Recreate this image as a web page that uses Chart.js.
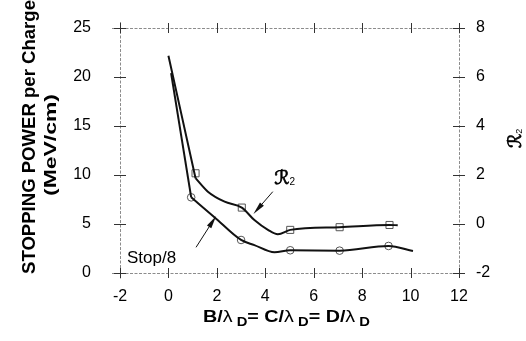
<!DOCTYPE html>
<html lang="en">
<head>
<meta charset="UTF-8">
<title>Stopping power per charge</title>
<script src="https://cdn.jsdelivr.net/npm/chart.js"></script>
<style>
  html, body { margin: 0; padding: 0; background: #fff; }
  #caja { width: 526px; height: 341px; }
</style>
</head>
<body>
<div id="caja"><canvas id="grafica"></canvas></div>
<script>
// ejes
const xTicks = [-2, 0, 2, 4, 6, 8, 10, 12];
const stopTicks = [0, 5, 10, 15, 20, 25];
const r2Ticks = [-2, 0, 2, 4, 6, 8];

// Stop/8 (eje izquierdo): tramo recto inicial, curva suave y circulos
const stopTramoX = [0.11, 0.94];
const stopTramoY = [20.4, 7.72];
const stopCurvaX = [0.94, 1.9, 3.0, 3.55, 4.38, 5.03, 7.07, 9.09, 10.1];
const stopCurvaY = [7.72, 5.7, 3.37, 2.85, 2.11, 2.32, 2.28, 2.76, 2.24];
const stopPuntosX = [0.94, 3.0, 5.03, 7.07, 9.09];
const stopPuntosY = [7.72, 3.37, 2.32, 2.28, 2.76];

// R2 (eje derecho): tramo recto inicial, curva suave y cuadrados
const r2TramoX = [0.0, 1.12];
const r2TramoY = [6.87, 1.87];
const r2CurvaX = [1.12, 1.63, 2.32, 3.03, 3.55, 4.11, 4.52, 5.03, 7.07, 9.13, 9.47];
const r2CurvaY = [1.87, 1.32, 0.91, 0.67, 0.16, -0.24, -0.42, -0.24, -0.13, -0.04, -0.05];
const r2PuntosX = [1.12, 3.03, 5.03, 7.07, 9.13];
const r2PuntosY = [2.07, 0.67, -0.24, -0.13, -0.04];

// anotaciones (en unidades de datos)
const flechaR2 = { desde: [4.31, 1.32], hasta: [3.51, 0.41] };   // eje derecho
const flechaStop = { desde: [1.14, 2.62], hasta: [1.97, 5.82] }; // eje izquierdo
const etiquetaR2 = { x: 4.37, y: 1.65 };
const etiquetaStop = { x: -1.71, y: 1.02 };

const FUENTE = "'Liberation Sans', Arial, Helvetica, sans-serif";

function pares(xs, ys) {
    return xs.map((x, i) => ({ x: x, y: ys[i] }));
}

function curva(etiqueta, xs, ys, eje) {
    return {
        label: etiqueta,
        data: pares(xs, ys),
        yAxisID: eje,
        showLine: true,
        borderColor: '#111',
        borderWidth: 2,
        pointRadius: 0,
        cubicInterpolationMode: 'monotone'
    };
}

function marcadores(etiqueta, xs, ys, eje, estilo, radio) {
    return {
        label: etiqueta,
        data: pares(xs, ys),
        yAxisID: eje,
        showLine: false,
        pointStyle: estilo,
        pointRadius: radio,
        borderColor: '#555',
        borderWidth: 1,
        backgroundColor: 'rgba(0,0,0,0)'
    };
}

function flecha(ctx, x0, y0, x1, y1) {
    const ang = Math.atan2(y1 - y0, x1 - x0);
    const largo = 13, medio = 2.6;
    ctx.beginPath();
    ctx.moveTo(x0, y0);
    ctx.lineTo(x1 - largo * 0.5 * Math.cos(ang), y1 - largo * 0.5 * Math.sin(ang));
    ctx.stroke();
    ctx.save();
    ctx.translate(x1, y1);
    ctx.rotate(ang);
    ctx.beginPath();
    ctx.moveTo(0, 0);
    ctx.lineTo(-largo, -medio);
    ctx.lineTo(-largo, medio);
    ctx.closePath();
    ctx.fill();
    ctx.restore();
}

// texto rotado, estirado hasta una longitud dada
function textoVertical(ctx, texto, fuente, xBase, yCentro, largoObjetivo) {
    ctx.save();
    ctx.font = fuente;
    const w = ctx.measureText(texto).width;
    ctx.translate(xBase, yCentro);
    ctx.rotate(-Math.PI / 2);
    ctx.scale(largoObjetivo / w, 1);
    ctx.textAlign = 'center';
    ctx.textBaseline = 'alphabetic';
    ctx.fillText(texto, 0, 0);
    ctx.restore();
}

// R caligrafica con subindice 2, algo engrosada
function erreDos(ctx, x, y, tam) {
    ctx.font = tam + "px 'DejaVu Sans', sans-serif";
    ctx.lineWidth = 0.7;
    ctx.strokeStyle = '#000';
    ctx.fillText('ℛ', x, y);
    ctx.strokeText('ℛ', x, y);
    const w = ctx.measureText('ℛ').width;
    ctx.font = Math.round(tam * 0.5) + 'px ' + FUENTE;
    ctx.fillText('2', x + w, y + 1);
}

// rejilla invisible: solo sirve para separar las etiquetas del eje
function rejillaOculta(separacion) {
    return {
        display: true,
        drawOnChartArea: false,
        drawTicks: true,
        tickLength: separacion,
        tickColor: 'rgba(0,0,0,0)',
        color: 'rgba(0,0,0,0)'
    };
}

const marco = {
    id: 'marco',
    afterDraw(chart) {
        const { ctx, chartArea: a, scales } = chart;
        const sx = scales.x, sy = scales.y, sy2 = scales.y2;
        ctx.save();

        // recuadro punteado
        ctx.strokeStyle = '#8c8c8c';
        ctx.lineWidth = 1;
        ctx.setLineDash([3, 1.5]);
        ctx.beginPath();
        ctx.moveTo(a.left - 8, a.top + 0.5); ctx.lineTo(a.right, a.top + 0.5);
        ctx.moveTo(a.left - 8, a.bottom + 0.5); ctx.lineTo(a.right, a.bottom + 0.5);
        ctx.moveTo(a.left + 0.5, a.top - 6); ctx.lineTo(a.left + 0.5, a.bottom + 6);
        ctx.moveTo(a.right + 0.5, a.top - 2); ctx.lineTo(a.right + 0.5, a.bottom + 2);
        ctx.stroke();

        // marcas de division cruzando los ejes
        ctx.setLineDash([]);
        ctx.strokeStyle = '#333';
        ctx.beginPath();
        xTicks.forEach(v => {
            const px = Math.round(sx.getPixelForValue(v)) + 0.5;
            ctx.moveTo(px, a.top - 5); ctx.lineTo(px, a.top + 5);
            ctx.moveTo(px, a.bottom - 5); ctx.lineTo(px, a.bottom + 5);
        });
        stopTicks.forEach(v => {
            const py = Math.round(sy.getPixelForValue(v)) + 0.5;
            ctx.moveTo(a.left - 6, py); ctx.lineTo(a.left + 6, py);
        });
        r2Ticks.forEach(v => {
            const py = Math.round(sy2.getPixelForValue(v)) + 0.5;
            ctx.moveTo(a.right - 6, py); ctx.lineTo(a.right + 6, py);
        });
        ctx.stroke();

        // flechas
        ctx.strokeStyle = '#111';
        ctx.fillStyle = '#111';
        ctx.lineWidth = 1;
        flecha(ctx,
            sx.getPixelForValue(flechaR2.desde[0]), sy2.getPixelForValue(flechaR2.desde[1]),
            sx.getPixelForValue(flechaR2.hasta[0]), sy2.getPixelForValue(flechaR2.hasta[1]));
        flecha(ctx,
            sx.getPixelForValue(flechaStop.desde[0]), sy.getPixelForValue(flechaStop.desde[1]),
            sx.getPixelForValue(flechaStop.hasta[0]), sy.getPixelForValue(flechaStop.hasta[1]));

        // etiquetas de las curvas
        ctx.fillStyle = '#000';
        ctx.textAlign = 'left';
        ctx.textBaseline = 'alphabetic';
        ctx.font = '17px ' + FUENTE;
        ctx.fillText('Stop/8', sx.getPixelForValue(etiquetaStop.x), sy.getPixelForValue(etiquetaStop.y));

        erreDos(ctx, sx.getPixelForValue(etiquetaR2.x), sy2.getPixelForValue(etiquetaR2.y), 19);

        // titulo eje izquierdo (dos lineas)
        textoVertical(ctx, 'STOPPING POWER per Charge', 'bold 19px ' + FUENTE, 35, 137, 274);
        textoVertical(ctx, '(MeV/cm)', 'bold 16px ' + FUENTE, 56, 145, 102);

        // titulo eje derecho
        ctx.save();
        ctx.translate(521, 148);
        ctx.rotate(-Math.PI / 2);
        erreDos(ctx, 0, 0, 18);
        ctx.restore();

        // titulo eje x: B/λD= C/λD= D/λD
        const negrita = 'bold 16px ' + FUENTE;
        const normal = '16px ' + FUENTE;
        const sub = 'bold 12px ' + FUENTE;
        const trozos = [
            ['B/', negrita, 0], ['λ', normal, 0], [' D', sub, 4],
            ['= C/', negrita, 0], ['λ', normal, 0], [' D', sub, 4],
            ['= D/', negrita, 0], ['λ', normal, 0], [' D', sub, 4]
        ];
        let total = 0;
        trozos.forEach(t => { ctx.font = t[1]; total += ctx.measureText(t[0]).width; });
        const largoX = 167;
        const centroX = (a.left + a.right) / 2 - 3;
        ctx.save();
        ctx.translate(centroX - largoX / 2, 322);
        ctx.scale(largoX / total, 1);
        let cx = 0;
        trozos.forEach(t => {
            ctx.font = t[1];
            ctx.fillText(t[0], cx, t[2]);
            cx += ctx.measureText(t[0]).width;
        });
        ctx.restore();

        ctx.restore();
    }
};

window.onload = function() {
    const ctx = document.getElementById('grafica').getContext('2d');
    new Chart(ctx, {
        type: 'scatter',
        data: {
            datasets: [
                curva('R2 tramo', r2TramoX, r2TramoY, 'y2'),
                curva('R2', r2CurvaX, r2CurvaY, 'y2'),
                marcadores('R2 puntos', r2PuntosX, r2PuntosY, 'y2', 'rect', 5),
                curva('Stop/8 tramo', stopTramoX, stopTramoY, 'y'),
                curva('Stop/8', stopCurvaX, stopCurvaY, 'y'),
                marcadores('Stop/8 puntos', stopPuntosX, stopPuntosY, 'y', 'circle', 3.8)
            ]
        },
        options: {
            responsive: true,
            maintainAspectRatio: false,
            animation: false,
            events: [],
            layout: { padding: { top: 28, left: 0, right: 0, bottom: 0 } },
            plugins: {
                legend: { display: false },
                tooltip: { enabled: false }
            },
            scales: {
                x: {
                    type: 'linear',
                    position: 'bottom',
                    min: -2, max: 12,
                    afterFit: s => { s.height = 68; },
                    afterBuildTicks: s => { s.ticks = xTicks.map(v => ({ value: v })); },
                    grid: { display: false, drawTicks: false },
                    border: { display: false },
                    ticks: { color: '#000', padding: 14, font: { size: 16, family: FUENTE } }
                },
                y: {
                    type: 'linear',
                    position: 'left',
                    min: 0, max: 25,
                    afterFit: s => { s.width = 120; },
                    afterBuildTicks: s => { s.ticks = stopTicks.map(v => ({ value: v })); },
                    grid: rejillaOculta(29),
                    border: { display: false },
                    ticks: { color: '#000', padding: 0, font: { size: 16, family: FUENTE } }
                },
                y2: {
                    type: 'linear',
                    position: 'right',
                    min: -2, max: 8,
                    afterFit: s => { s.width = 67; },
                    afterBuildTicks: s => { s.ticks = r2Ticks.map(v => ({ value: v })); },
                    grid: rejillaOculta(17),
                    border: { display: false },
                    ticks: { color: '#000', padding: 0, font: { size: 16, family: FUENTE } }
                }
            }
        },
        plugins: [marco]
    });
};
</script>
</body>
</html>
